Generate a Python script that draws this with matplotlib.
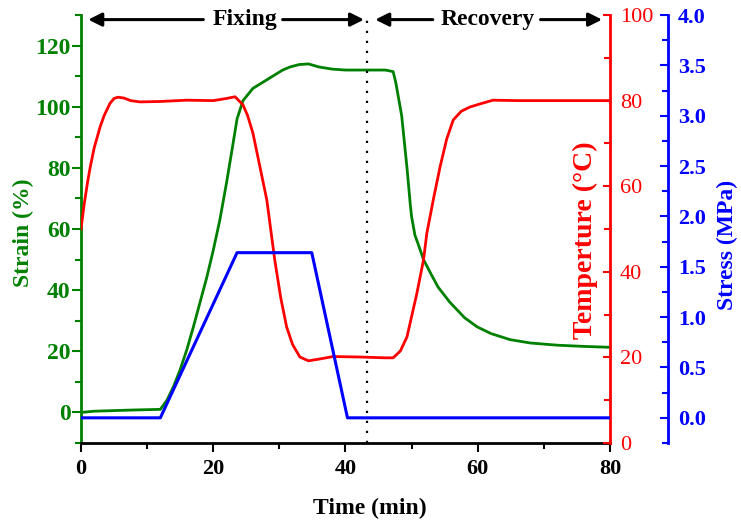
import matplotlib
matplotlib.use('Agg')
import matplotlib.pyplot as plt
from matplotlib.ticker import MultipleLocator

plt.rcParams['font.family'] = ['Liberation Serif', 'DejaVu Serif']
plt.rcParams['font.weight'] = 'bold'

# strain (%) vs time (min)
strain_t = [0, 2, 5, 8, 12, 13, 14, 15, 16, 17, 18, 19, 20, 21, 22, 23, 23.6, 24.5,
            26, 27.5, 29, 30.5, 31.6, 33, 34.4, 36, 38, 40, 43, 46, 47.2, 47.6, 48.5,
            49.3, 49.8, 50.0, 50.5, 51.0, 51.8, 53, 54, 55.8, 58, 59.9, 62, 64.9, 68,
            72, 76, 80]
strain = [0, 0.4, 0.6, 0.8, 1.0, 4, 8.5, 14, 20.5, 28, 36, 44, 53, 63, 75, 88, 96, 102,
          106, 108, 110, 112, 113, 113.8, 114, 113, 112.3, 112, 112, 112, 111.5, 108,
          97, 80, 68, 64, 58, 55, 50, 45, 41, 36, 31, 28, 25.8, 23.8, 22.7, 22,
          21.6, 21.3]

# temperature (°C) vs time (min)
temp_t = [0, 0.5, 1, 1.4, 2, 2.9, 3.5, 4.4, 5, 5.6, 6.5, 7.5, 8.9, 12, 16, 20, 22,
          23.3, 24.5, 25.2, 26, 27, 28.1, 29.3, 30.2, 31.1, 32, 33.1, 34.4, 36, 38.1,
          42, 46, 47.2, 48.3, 49.3, 50.8, 51.8, 52.3, 53.3, 54.3, 55.3, 56.3, 57.5,
          58.8, 60.5, 62.3, 66, 70, 80]
temp = [50, 56, 61, 64.5, 69, 73.9, 76.5, 79.4, 80.5, 80.8, 80.6, 80, 79.7, 79.8,
        80.1, 80, 80.5, 80.9, 79, 76.5, 72.4, 65, 56.8, 42.8, 34, 27.1, 23, 20.1,
        19.2, 19.6, 20.2, 20.1, 19.9, 19.9, 21.5, 24.8, 35, 42.8, 49, 57, 64.5, 71,
        75.5, 77.5, 78.5, 79.3, 80.1, 80, 80, 80]

# stress (MPa) vs time (min)
stress_t = [0, 12, 23.6, 34.9, 40.3, 80]
stress = [0, 0, 1.64, 1.64, 0, 0]

switch_time = 43.2
green = '#008000'
red = '#ff0000'
blue = '#0000ff'

fig = plt.figure(figsize=(7.41, 5.27), dpi=100)
ax = fig.add_axes([0.1093, 0.1594, 0.7139, 0.8121])
ax2 = ax.twinx()
ax3 = ax.twinx()

ax.plot(strain_t, strain, color=green, lw=2)
ax2.plot(temp_t, temp, color=red, lw=2)
ax3.plot(stress_t, stress, color=blue, lw=2.2)

ax.set_xlim(0, 80)
ax.set_ylim(-10, 130)
ax2.set_ylim(0, 100)
ax3.set_ylim(-0.25, 4.0)

ax.xaxis.set_major_locator(MultipleLocator(20))
ax.xaxis.set_minor_locator(MultipleLocator(10))
ax.yaxis.set_major_locator(MultipleLocator(20))
ax.yaxis.set_minor_locator(MultipleLocator(10))
ax2.yaxis.set_major_locator(MultipleLocator(20))
ax2.yaxis.set_minor_locator(MultipleLocator(10))
ax3.yaxis.set_major_locator(MultipleLocator(0.5))
ax3.yaxis.set_minor_locator(MultipleLocator(0.25))
ax3.yaxis.set_major_formatter(plt.FormatStrFormatter('%.1f'))
ax.set_yticks([0, 20, 40, 60, 80, 100, 120])

for a in (ax, ax2, ax3):
    a.spines['top'].set_visible(False)
for a in (ax2, ax3):
    a.spines['left'].set_visible(False)
    a.spines['bottom'].set_visible(False)
ax.spines['right'].set_visible(False)

ax.spines['left'].set_color(green)
ax.spines['left'].set_linewidth(2)
ax.spines['bottom'].set_color('black')
ax.spines['bottom'].set_linewidth(2)
ax2.spines['right'].set_color(red)
ax2.spines['right'].set_linewidth(2)
ax3.spines['right'].set_color(blue)
ax3.spines['right'].set_linewidth(2)
ax3.spines['right'].set_position(('outward', 41.8))  # points, ~58 px

ax.tick_params(axis='x', which='major', direction='out', length=6.5, width=1.5,
               labelsize=16, pad=5, colors='black')
ax.tick_params(axis='x', which='minor', direction='out', length=4, width=1.5)
ax.tick_params(axis='y', which='major', direction='out', length=6.5, width=1.5,
               labelsize=17, pad=1, colors=green)
ax.tick_params(axis='y', which='minor', direction='out', length=4, width=1.5,
               colors=green)
ax2.tick_params(axis='y', which='major', direction='in', length=5, width=1.5,
                labelsize=16, pad=7, colors=red)
ax2.tick_params(axis='y', which='minor', direction='in', length=4, width=1.5,
                colors=red)
ax3.tick_params(axis='y', which='major', direction='in', length=6, width=1.5,
                labelsize=16, pad=7, colors=blue)
ax3.tick_params(axis='y', which='minor', direction='in', length=4, width=1.5,
                colors=blue)
for lab in ax2.get_yticklabels():
    lab.set_fontweight('normal')

# phase separator and annotations
ax.axvline(switch_time, ymin=0, ymax=1, color='black', lw=1.6,
           linestyle=(0, (1, 3.5)))
arrow_y = 128.5
arr = dict(arrowstyle='-|>', color='black', lw=2.2, mutation_scale=20,
           shrinkA=0, shrinkB=0)
ax.annotate('', xy=(1.1, arrow_y), xytext=(18.5, arrow_y), arrowprops=arr,
            annotation_clip=False)
ax.annotate('', xy=(42.8, arrow_y), xytext=(30.5, arrow_y), arrowprops=arr,
            annotation_clip=False)
ax.annotate('', xy=(44.5, arrow_y), xytext=(53.2, arrow_y), arrowprops=arr,
            annotation_clip=False)
ax.annotate('', xy=(78.8, arrow_y), xytext=(69.5, arrow_y), arrowprops=arr,
            annotation_clip=False)
ax.text(24.75, arrow_y, 'Fixing', ha='center', va='center', fontsize=17,
        fontweight='bold')
ax.text(61.5, arrow_y, 'Recovery', ha='center', va='center', fontsize=17,
        fontweight='bold')

fig.text(23 / 741, 1 - 233 / 527, 'Strain (%)', rotation=90, ha='center',
         va='center', fontsize=17, fontweight='bold', color=green)
fig.text(585 / 741, 1 - 240 / 527, 'Temperture (°C)', rotation=90, ha='center',
         va='center', fontsize=20, fontweight='bold', color=red)
fig.text(727 / 741, 1 - 245 / 527, 'Stress (MPa)', rotation=90, ha='center',
         va='center', fontsize=17, fontweight='bold', color=blue)
fig.text(370 / 741, 1 - 508 / 527, 'Time (min)', ha='center', va='center',
         fontsize=17, fontweight='bold', color='black')

fig.savefig('out.png', dpi=100)
